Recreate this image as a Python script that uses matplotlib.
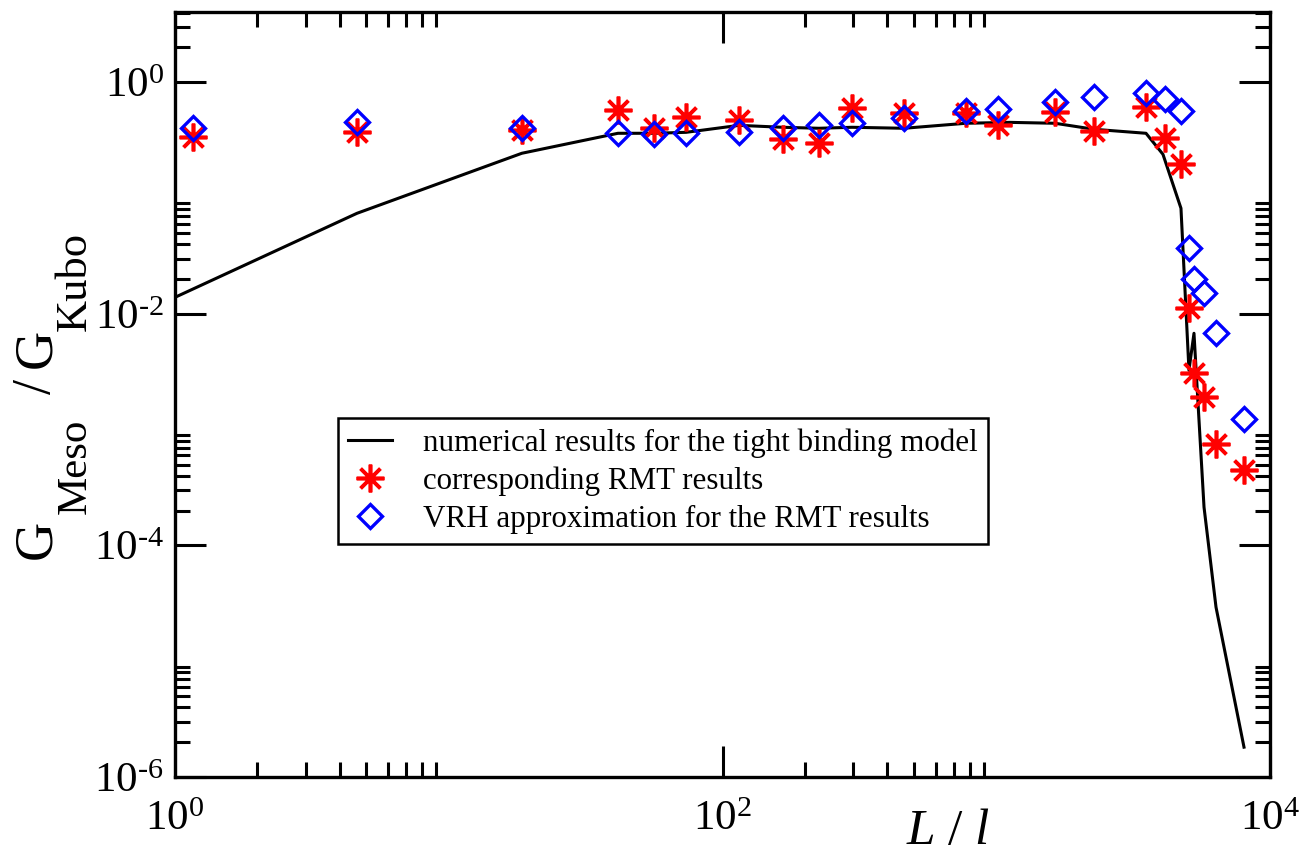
import math
import matplotlib
matplotlib.use("Agg")
import matplotlib.pyplot as plt
from matplotlib.ticker import FixedLocator, NullFormatter, FuncFormatter

plt.rcParams['font.family'] = ['Liberation Serif', 'DejaVu Serif']
plt.rcParams['mathtext.fontset'] = 'custom'
plt.rcParams['mathtext.rm'] = 'Liberation Serif'
plt.rcParams['mathtext.it'] = 'Liberation Serif:italic'

# L/l positions of the RMT points (same for both marker series)
L_pts = [1.16, 4.62, 18.5, 41.5, 56.2, 73.6, 114.9, 166, 225, 297, 460, 775,
         1014, 1640, 2277, 3524, 4133, 4729, 5058, 5276, 5741, 6350, 8036]
rmt = [0.335, 0.370, 0.385, 0.573, 0.401, 0.499, 0.470, 0.322, 0.297, 0.596,
       0.540, 0.540, 0.425, 0.551, 0.377, 0.608, 0.328, 0.196, 0.0112, 0.00307,
       0.00190, 0.000748, 0.000446]
vrh = [0.401, 0.451, 0.401, 0.363, 0.356, 0.363, 0.370, 0.401, 0.425, 0.443,
       0.489, 0.562, 0.585, 0.672, 0.742, 0.804, 0.713, 0.562, 0.0369, 0.0199,
       0.0151, 0.00680, 0.00123]

# tight binding curve
L_tb = [1.0, 4.62, 18.5, 41.5, 56.2, 73.6, 114.9, 166, 225, 297, 460, 775,
        1122, 1640, 2277, 3524, 4064, 4729, 5058, 5276, 5741, 6350, 8036]
g_tb = [0.0139, 0.0739, 0.244, 0.363, 0.363, 0.370, 0.425, 0.409, 0.401, 0.409,
        0.401, 0.443, 0.451, 0.443, 0.393, 0.363, 0.239, 0.0817, 0.00326, 0.00680,
        0.000214, 2.93e-5, 1.81e-6]

W, H = 1305, 856
fig = plt.figure(figsize=(W / 100, H / 100), dpi=100)
ax = fig.add_axes([175 / W, 1 - 777 / H, 1095 / W, 765 / H])

ax.plot(L_tb, g_tb, color='black', lw=2.2,
        label='numerical results for the tight binding model')
ax.plot(L_pts, rmt, ls='none', marker=(8, 2, 0), ms=20, mec='red', mew=2.6,
        color='red', label='corresponding RMT results')
ax.plot(L_pts, vrh, ls='none', marker='D', ms=12, mfc='none', mec='blue',
        mew=2.4, label='VRH approximation for the RMT results')

ax.set_xscale('log')
ax.set_yscale('log')
ax.set_xlim(1, 1e4)
ax.set_ylim(1e-6, 4.05)

# xmgrace-style ticks: major every two decades, minor only in the decade above
ax.xaxis.set_major_locator(FixedLocator([1, 1e2, 1e4]))
ax.xaxis.set_minor_locator(FixedLocator([m * d for d in (1, 1e2) for m in range(2, 10)]))
ax.yaxis.set_major_locator(FixedLocator([1e-6, 1e-4, 1e-2, 1]))
ax.yaxis.set_minor_locator(FixedLocator([m * d for d in (1e-6, 1e-4, 1e-2, 1) for m in range(2, 10)]))


def pow_label(v, pos):
    e = round(math.log10(v))
    s = str(abs(e)) if e >= 0 else '\u2010' + str(abs(e))
    return r'$10^{\mathrm{%s}}$' % s


ax.xaxis.set_major_formatter(FuncFormatter(pow_label))
ax.yaxis.set_major_formatter(FuncFormatter(pow_label))
ax.xaxis.set_minor_formatter(NullFormatter())
ax.yaxis.set_minor_formatter(NullFormatter())

ax.tick_params(which='both', direction='in', top=True, right=True, width=2.2, labelsize=31)
ax.tick_params(which='major', length=22)
ax.tick_params(which='minor', length=11)
ax.tick_params(axis='x', pad=17)
ax.tick_params(axis='y', pad=8)
for s in ax.spines.values():
    s.set_linewidth(2.4)

# y label built from pieces so the subscripts stay large, as in the original
ylab = [('G', 50, 559, 39), ('Meso', 86, 514, 31), ('/', 50, 394, 39),
        ('G', 50, 368, 39), ('Kubo', 86, 331, 32)]
for txt, px, py, fs in ylab:
    fig.text(px / W, 1 - py / H, txt, rotation=90, rotation_mode='anchor',
             ha='left', va='baseline', fontsize=fs)

fig.text(948 / W, 1 - 844 / H, r'$L\ /\ l$', fontsize=37, ha='center', va='baseline')

leg = ax.legend(loc='upper left', bbox_to_anchor=(0.149, 0.469), fontsize=22.3,
                numpoints=1, handlelength=1.4, handletextpad=1.0, borderpad=0.33,
                labelspacing=0.28, fancybox=False, framealpha=1, borderaxespad=0)
leg.get_frame().set_edgecolor('black')
leg.get_frame().set_linewidth(1.8)

fig.savefig('out.png', dpi=100)
